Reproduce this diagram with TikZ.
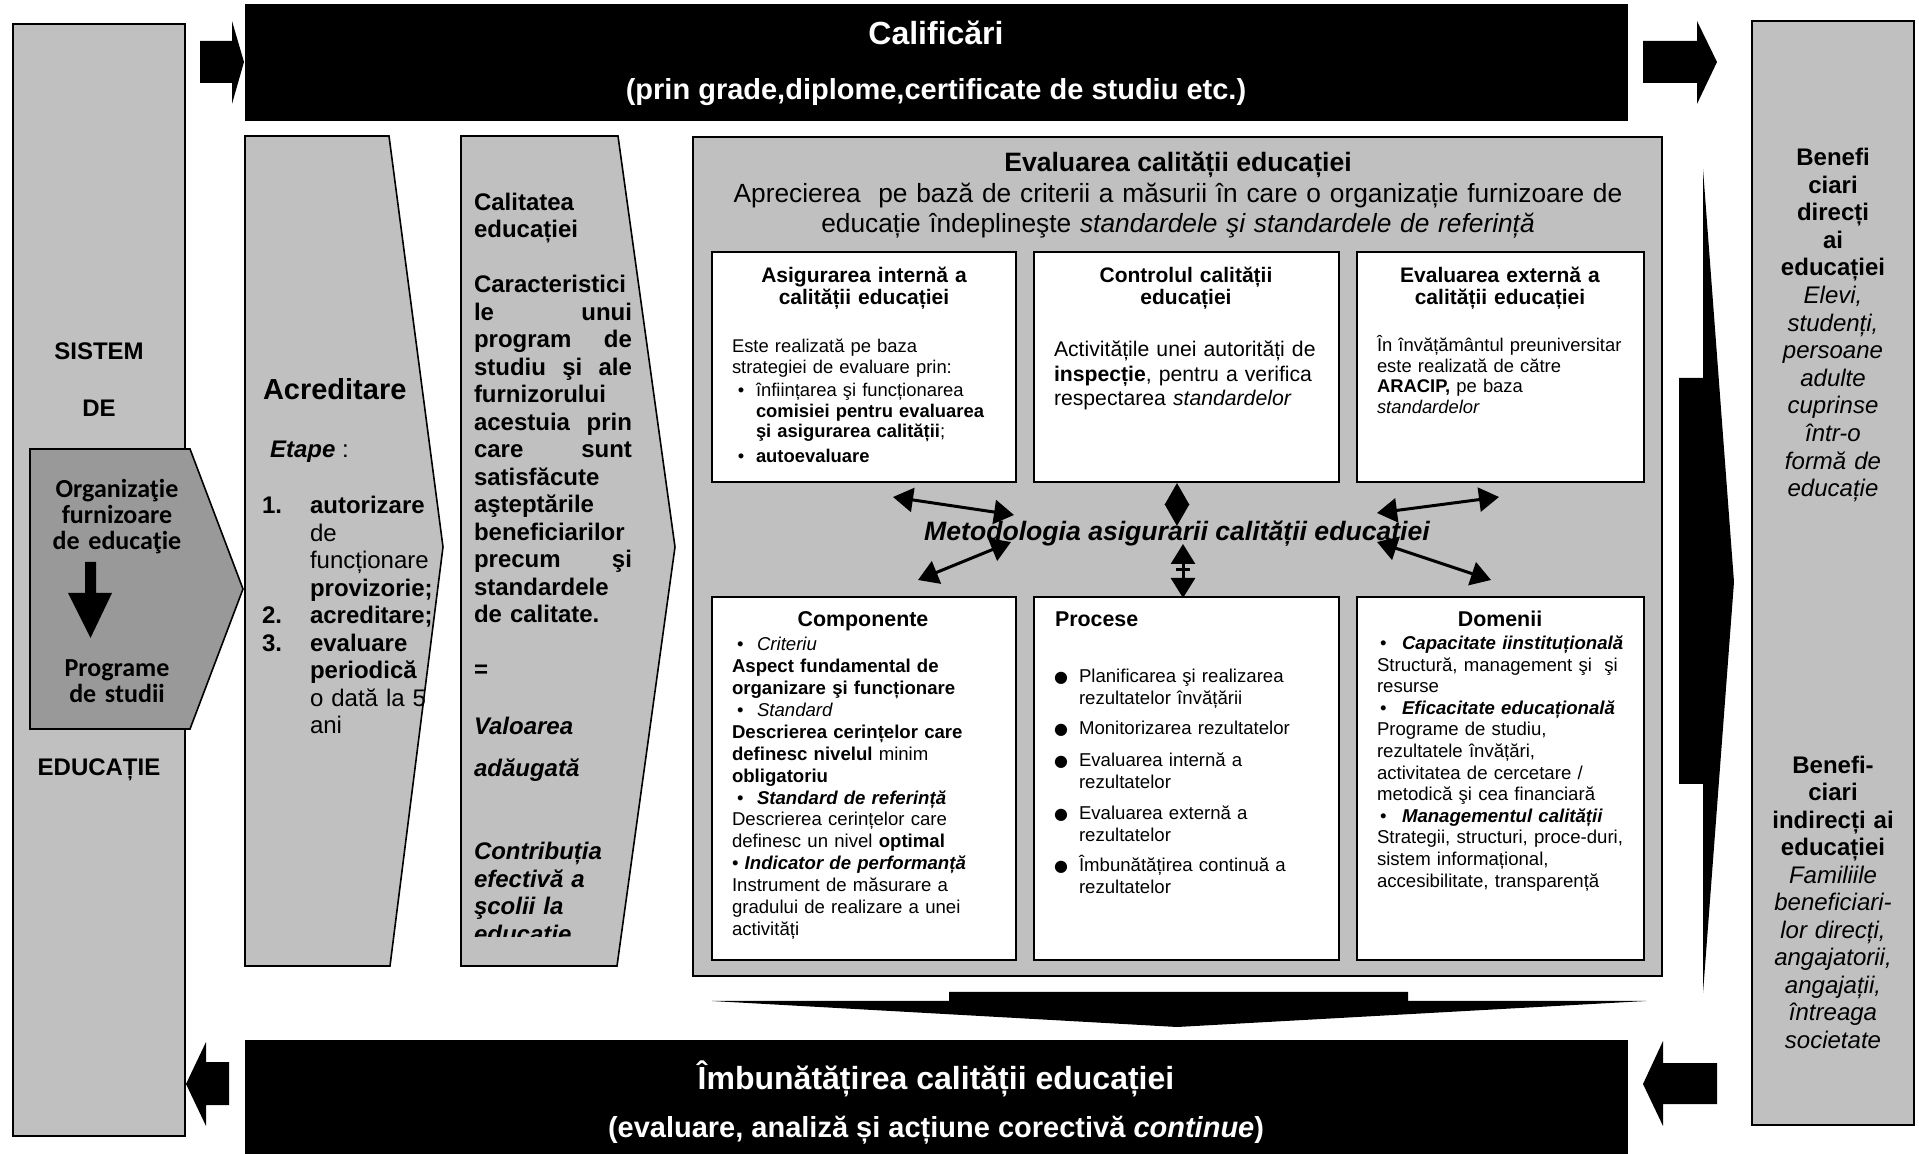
\documentclass[tikz,border=0pt]{standalone}
\usepackage{fontspec}
\setmainfont{Liberation Sans}
\newfontfamily\carl{Carlito}
\newfontfamily\djv{DejaVu Sans}
\usetikzlibrary{arrows.meta}
\definecolor{boxgray}{HTML}{C0C0C0}
\definecolor{pentgray}{HTML}{999999}
\newcommand{\fsz}[2]{\fontsize{#1}{#2}\selectfont}
\newcommand{\bul}{\makebox[10pt][l]{\textbullet}}
\newcommand{\bbul}{{\djv\fontsize{8}{8}\selectfont ●}}
\begin{document}
\begin{tikzpicture}[x=0.5pt,y=-0.5pt,
  graybox/.style={fill=boxgray,draw=black,line width=0.8pt},
  whitebox/.style={fill=white,draw=black,line width=1pt},
  txt/.style={inner sep=0pt,outer sep=0pt},
  dbl/.style={line width=1.5pt,{Triangle[length=10pt,width=12pt]}-{Triangle[length=10pt,width=12pt]}},
  diam/.style={line width=1.5pt,{Triangle[length=10.9pt,width=12pt]}-{Triangle[length=10.9pt,width=12pt]}}]
\useasboundingbox (0,0) rectangle (1919,1154);
\fill[white] (0,0) rectangle (1919,1154);

% ---------- side columns ----------
\draw[graybox] (13,24) rectangle (185,1136);
\draw[graybox] (1752,21) rectangle (1914,1125);

% ---------- top and bottom bars + block arrows ----------
\fill (245,4) rectangle (1628,121);
\fill (200,41)--(232,41)--(232,21)--(244,62)--(232,104)--(232,83)--(200,83)--cycle;
\fill (1643,41)--(1697,41)--(1697,21)--(1717,62)--(1697,104)--(1697,83)--(1643,83)--cycle;
\fill (245,1040) rectangle (1628,1154);
\fill (229,1062)--(206,1062)--(206,1042)--(186,1084)--(206,1126)--(206,1105)--(229,1105)--cycle;
\fill (1717,1063)--(1663,1063)--(1663,1041)--(1643,1084)--(1663,1126)--(1663,1104)--(1717,1104)--cycle;

% ---------- chevron boxes ----------
\draw[graybox] (245,136)--(389,136)--(443,547)--(390,966)--(245,966)--cycle;
\draw[graybox] (461,136)--(618,136)--(675,547)--(617,966)--(461,966)--cycle;

% ---------- pentagon ----------
\draw[fill=pentgray,draw=black,line width=0.8pt] (30,449)--(190,449)--(243,589)--(190,729)--(30,729)--cycle;
\fill (85,562)--(96,562)--(96,593)--(112,593)--(90.5,638)--(68,593)--(85,593)--cycle;

% ---------- big box ----------
\draw[graybox] (693,137) rectangle (1662,976);
\draw[whitebox] (712,252) rectangle (1016,482);
\draw[whitebox] (1034,252) rectangle (1339,482);
\draw[whitebox] (1357,252) rectangle (1644,482);
\draw[whitebox] (712,597) rectangle (1016,960);
\draw[whitebox] (1034,597) rectangle (1339,960);
\draw[whitebox] (1357,597) rectangle (1644,960);

% right tall arrow
\fill (1703,169)--(1734,582)--(1703,993)--(1703,784)--(1679,784)--(1679,378)--(1703,378)--cycle;
% down arrow under big box
\fill (949,992)--(1408,992)--(1408,1001)--(1646,1001)--(1177,1027)--(712,1001)--(949,1001)--cycle;

% ---------- texts: bars ----------
\node[txt,text=white,font=\fsz{16}{19}\bfseries,anchor=base] (calif) at (936,45) {Calificări};
\node[txt,text=white,font=\fsz{14.5}{17}\bfseries,anchor=base] (calif2) at (936,100) {(prin grade,diplome,certificate de studiu etc.)};
\node[txt,text=white,font=\fsz{16}{19}\bfseries,anchor=base] (imb) at (936,1089) {Îmbunătățirea calității educației};
\node[txt,text=white,font=\fsz{14.5}{17}\bfseries,anchor=base] (imb2) at (936,1137) {(evaluare, analiză și acțiune corectivă \textit{continue})};

% ---------- left column ----------
\node[txt,font=\fsz{12}{14}\bfseries,anchor=base] (sis) at (99,360) {SISTEM};
\node[txt,font=\fsz{12}{14}\bfseries,anchor=base] (de) at (99,417) {DE};
\node[txt,font=\fsz{12}{14}\bfseries,anchor=base] (edu) at (99,776) {EDUCAȚIE};
\node[txt,font=\carl\fsz{13}{13}\bfseries,anchor=base,text width=80pt,align=center] (org) at (117,498) {Organizaţie\\furnizoare\\de educaţie};
\node[txt,font=\carl\fsz{13}{13}\bfseries,anchor=base,text width=80pt,align=center] (prog) at (117,677) {Programe\\de studii};

% ---------- Acreditare ----------
\node[txt,font=\fsz{14.5}{17}\bfseries,anchor=base west] (acr) at (263,400) {Acreditare};
\node[txt,font=\fsz{12}{14},anchor=base west] (etape) at (270,458) {\textbf{\textit{Etape}} :};
\node[txt,font=\fsz{12}{13.75}\bfseries,anchor=base west,text width=20pt,align=left] (nums) at (262,514) {1.\\\strut\\\strut\\\strut\\2.\\3.};
\node[txt,font=\fsz{12}{13.75},anchor=base west,text width=70pt,align=left] (acrl) at (310,514) {\textbf{autorizare}\\de\\funcționare\\\textbf{provizorie;}\\\textbf{acreditare;}\\\textbf{evaluare}\\\textbf{periodică}\\o dată la 5\\ani};

% ---------- Calitatea ----------
\node[txt,font=\fsz{12}{13.75}\bfseries,anchor=base west,text width=79pt,align=left] (cal) at (474,210.5) {Calitatea\\educației\\\strut\\Caracteristici\\le\hfill unui\\program\hfill de\\studiu\hfill şi\hfill ale\\furnizorului\\acestuia\hfill prin\\care\hfill sunt\\satisfăcute\\aşteptările\\beneficiarilor\\precum\hfill şi\\standardele\\de calitate.\\\strut\\=};
\node[txt,font=\fsz{12}{13.75}\bfseries\itshape,anchor=base west] (val) at (474,734.5) {Valoarea};
\node[txt,font=\fsz{12}{13.75}\bfseries\itshape,anchor=base west] (adg) at (474,776.5) {adăugată};
\begin{scope}
\clip (461,800) rectangle (700,937);
\node[txt,font=\fsz{12}{13.75}\bfseries\itshape,anchor=base west,text width=79pt,align=left] (contr) at (474,860) {Contribuția\\efectivă a\\şcolii la\\educație};
\end{scope}

% ---------- big box header ----------
\node[txt,font=\fsz{13.3}{15}\bfseries,anchor=base] (evt) at (1178,172) {Evaluarea calității educației};
\node[txt,font=\fsz{13.15}{15},anchor=base,text width=460pt,align=center] (apr) at (1178,203) {Aprecierea\ \ pe bază de criterii a măsurii în care o organizație furnizoare de\\educație îndeplineşte \textit{standardele şi standardele de referință}};

% ---------- top inner boxes ----------
\node[txt,font=\fsz{10.5}{11}\bfseries,anchor=base,text width=140pt,align=center] (t1) at (864,283) {Asigurarea internă a\\calității educației};
\node[txt,font=\fsz{9.2}{10.25},anchor=base west,text width=140pt,align=left] (b1) at (732,353) {Este realizată pe baza\\strategiei de evaluare prin:};
\node[txt,font=\fsz{9.2}{10.25},anchor=base] (bu1) at (741,397) {\textbullet};
\node[txt,font=\fsz{9.2}{10.25},anchor=base west,text width=130pt,align=left] (b1i) at (756,397) {înființarea şi funcționarea\\\textbf{comisiei pentru evaluarea}\\\textbf{şi asigurarea calității};};
\node[txt,font=\fsz{9.2}{10.25},anchor=base] (bu2) at (741,463) {\textbullet};
\node[txt,font=\fsz{9.2}{10.25}\bfseries,anchor=base west] (b1j) at (756,463) {autoevaluare};

\node[txt,font=\fsz{10.5}{11}\bfseries,anchor=base,text width=140pt,align=center] (t2) at (1186,283) {Controlul calității\\educației};
\node[txt,font=\fsz{10.6}{12.25},anchor=base west,text width=140pt,align=left] (b2) at (1054,357) {Activitățile unei autorități de\\\textbf{inspecție}, pentru a verifica\\respectarea \textit{standardelor}};

\node[txt,font=\fsz{10.5}{11}\bfseries,anchor=base,text width=140pt,align=center] (t3) at (1500,283) {Evaluarea externă a\\calității educației};
\node[txt,font=\fsz{9.2}{10.25},anchor=base west,text width=130pt,align=left] (b3) at (1377,352) {În învățământul preuniversitar\\este realizată de către\\\textbf{ARACIP,} pe baza\\\textit{standardelor}};

% ---------- methodology + arrows ----------
\node[txt,font=\fsz{13.3}{15}\bfseries\itshape,anchor=base] (met) at (1177,541) {Metodologia asigurarii calității educației};
\coordinate (aul1) at (893,497); \coordinate (aul2) at (1014,515);
\coordinate (all1) at (918,580); \coordinate (all2) at (1011,542);
\coordinate (act1) at (1177,483); \coordinate (act2) at (1177,526);
\coordinate (acb1) at (1183,544); \coordinate (acb2) at (1183,598);
\coordinate (acbm1) at (1176,570); \coordinate (acbm2) at (1190,570);
\coordinate (aur1) at (1377,513); \coordinate (aur2) at (1499,497);
\coordinate (alr1) at (1377,542); \coordinate (alr2) at (1491,580);
\draw[dbl] (aul1) -- (aul2);
\draw[dbl] (all1) -- (all2);
\draw[diam] (act1) -- (act2);
\draw[dbl] (acb1) -- (acb2);
\draw[line width=1.5pt] (acbm1) -- (acbm2);
\draw[dbl] (aur1) -- (aur2);
\draw[dbl] (alr1) -- (alr2);

% ---------- bottom inner boxes ----------
\node[txt,font=\fsz{10.7}{12}\bfseries,anchor=base] (t4) at (863,627) {Componente};
\node[txt,font=\fsz{9.3}{10.93},anchor=base west,text width=145pt,align=left] (b4) at (732,651) {\hspace*{2.5pt}\bul\textit{Criteriu}\\\textbf{Aspect fundamental de}\\\textbf{organizare şi funcționare}\\\hspace*{2.5pt}\bul\textit{Standard}\\\textbf{Descrierea cerințelor care}\\\textbf{definesc nivelul} minim\\\textbf{obligatoriu}\\\hspace*{2.5pt}\bul\textbf{\textit{Standard de referință}}\\Descrierea cerințelor care\\definesc un nivel \textbf{optimal}\\\textbullet\ \textbf{\textit{Indicator de performanță}}\\Instrument de măsurare a\\gradului de realizare a unei\\activități};

\node[txt,font=\fsz{10.7}{12}\bfseries,anchor=base west] (t5) at (1055,627) {Procese};
\node[txt,anchor=base] (pb1) at (1061,683) {\bbul};
\node[txt,anchor=base] (pb2) at (1061,735) {\bbul};
\node[txt,anchor=base] (pb3) at (1061,767) {\bbul};
\node[txt,anchor=base] (pb4) at (1061,820) {\bbul};
\node[txt,anchor=base] (pb5) at (1061,872) {\bbul};
\node[txt,font=\fsz{9.3}{10.75},anchor=base west,text width=125pt,align=left] (p1) at (1079,683) {Planificarea şi realizarea\\rezultatelor învățării};
\node[txt,font=\fsz{9.3}{10.75},anchor=base west,text width=125pt,align=left] (p2) at (1079,735) {Monitorizarea rezultatelor};
\node[txt,font=\fsz{9.3}{10.75},anchor=base west,text width=125pt,align=left] (p3) at (1079,767) {Evaluarea internă a\\rezultatelor};
\node[txt,font=\fsz{9.3}{10.75},anchor=base west,text width=125pt,align=left] (p4) at (1079,820) {Evaluarea externă a\\rezultatelor};
\node[txt,font=\fsz{9.3}{10.75},anchor=base west,text width=125pt,align=left] (p5) at (1079,872) {Îmbunătățirea continuă a\\rezultatelor};

\node[txt,font=\fsz{10.7}{12}\bfseries,anchor=base] (t6) at (1500,627) {Domenii};
\node[txt,font=\fsz{9.3}{10.8},anchor=base west,text width=132pt,align=left] (b6) at (1377,649.5) {\hspace*{1.5pt}\makebox[11pt][l]{\textbullet}\textbf{\textit{Capacitate iinstituțională}}\\Structură, management şi \ şi\\resurse\\\hspace*{1.5pt}\makebox[11pt][l]{\textbullet}\textbf{\textit{Eficacitate educațională}}\\Programe de studiu,\\rezultatele învățări,\\activitatea de cercetare /\\metodică şi cea financiară\\\hspace*{1.5pt}\makebox[11pt][l]{\textbullet}\textbf{\textit{Managementul calității}}\\Strategii, structuri, proce-duri,\\sistem informațional,\\accesibilitate, transparență};

% ---------- right column ----------
\node[txt,font=\fsz{12}{13.8},anchor=base,text width=78pt,align=center] (rc1) at (1833,165.5) {\textbf{Benefi}\\\textbf{ciari}\\\textbf{direcți}\\\textbf{ai}\\\textbf{educației}\\\textit{Elevi,}\\\textit{studenți,}\\\textit{persoane}\\\textit{adulte}\\\textit{cuprinse}\\\textit{într-o}\\\textit{formă de}\\\textit{educație}};
\node[txt,font=\fsz{12}{13.75},anchor=base,text width=78pt,align=center] (rc2) at (1833,773.5) {\textbf{Benefi-}\\\textbf{ciari}\\\textbf{indirecți ai}\\\textbf{educației}\\\textit{Familiile}\\\textit{beneficiari-}\\\textit{lor direcți,}\\\textit{angajatorii,}\\\textit{angajații,}\\\textit{întreaga}\\\textit{societate}};
\end{tikzpicture}
\end{document}
